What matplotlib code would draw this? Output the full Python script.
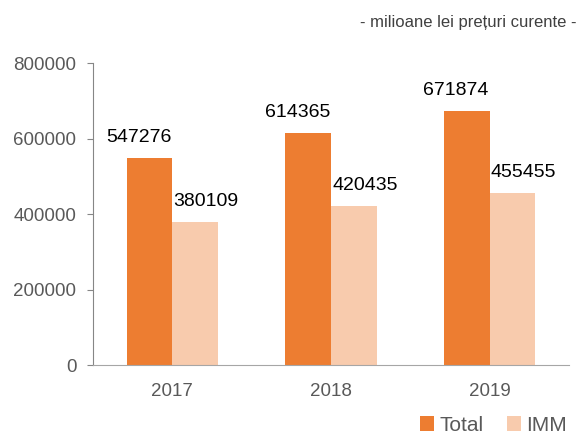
import matplotlib
matplotlib.use("Agg")
import matplotlib.pyplot as plt
import numpy as np

years = ["2017", "2018", "2019"]
total = [547276, 614365, 671874]
imm = [380109, 420435, 455455]
series_names = ["Total", "IMM"]
yticks = [0, 200000, 400000, 600000, 800000]

plt.rcParams['font.family'] = ['Liberation Sans Narrow', 'Liberation Sans', 'DejaVu Sans']

fig = plt.figure(figsize=(5.8, 4.36), dpi=100)
ax = fig.add_axes([93/580, 71/436, 476/580, 302/436])

x = np.arange(len(years))
w = 0.287
b1 = ax.bar(x - w/2, total, w, color="#ED7D31", label=series_names[0])
b2 = ax.bar(x + w/2, imm, w, color="#F8CBAD", label=series_names[1])

# data labels, shifted a bit sideways like the original
for xi, v in zip(x - w/2, total):
    ax.annotate(str(v), (xi, v), xytext=(-11, 12), textcoords="offset pixels",
                ha="center", va="bottom", fontsize=14, color="black")
for xi, v in zip(x + w/2, imm):
    ax.annotate(str(v), (xi, v), xytext=(11, 12), textcoords="offset pixels",
                ha="center", va="bottom", fontsize=14, color="black")

ax.set_xlim(-0.5, 2.5)
ax.set_ylim(0, 800000)
ax.set_yticks(yticks)
ax.set_yticklabels([str(t) for t in yticks], family=['Liberation Sans'])
ax.set_xticks(x)
ax.set_xticklabels(years, family=['Liberation Sans'])

ax.tick_params(axis="y", length=4, color="#868686", labelsize=13.5,
               labelcolor="#595959", pad=8)
ax.tick_params(axis="x", length=0, labelsize=13.5, labelcolor="#595959", pad=13)
for s in ["top", "right"]:
    ax.spines[s].set_visible(False)
ax.spines["left"].set_color("#868686")
ax.spines["bottom"].set_color("#A6A6A6")

fig.text(577/580, 1 - 22/436, "- milioane lei prețuri curente -", ha="right",
         va="center", fontsize=12, color="#404040", family=['Liberation Sans'])

leg = fig.legend(handles=[b1, b2], loc="center right",
                 bbox_to_anchor=(586/580, 1 - 425/436), ncol=2, frameon=False,
                 handlelength=0.7, handleheight=0.7,
                 handletextpad=0.25, columnspacing=1.1,
                 prop={'family': ['Liberation Sans'], 'size': 15})
for t in leg.get_texts():
    t.set_color("#595959")

fig.savefig("out.png", dpi=100)
